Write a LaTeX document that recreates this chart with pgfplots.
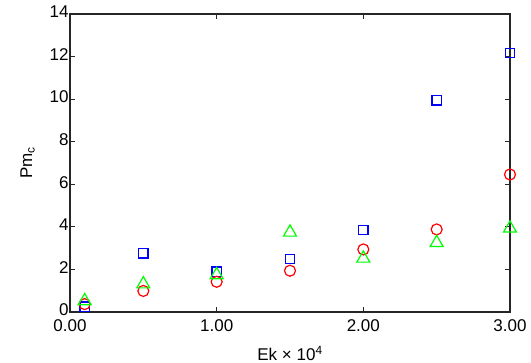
\documentclass[border=0pt]{standalone}
\usepackage{pgfplots}
\pgfplotsset{compat=1.18}
\usepackage{fontspec}
\setmainfont{Liberation Sans}
\definecolor{mblue}{rgb}{0,0,1}
\definecolor{mred}{rgb}{1,0,0}
\definecolor{mgreen}{rgb}{0,1,0}
\begin{document}
\begin{tikzpicture}[x=1bp,y=1bp]
\path[use as bounding box] (-70bp,-51bp) rectangle (461bp,312bp);
\begin{axis}[
  at={(0,0)}, anchor=south west,
  scale only axis, width=440bp, height=298bp,
  xmin=0, xmax=3, ymin=0, ymax=14,
  xtick={0,1,2,3}, xticklabels={0.00,1.00,2.00,3.00},
  ytick={0,2,...,14},
  tick align=inside, tick pos=both,
  major tick length=5bp,
  axis line style={line width=1.2bp, black!85},
  tick style={line width=1bp, black!85},
  font=\fontsize{17bp}{19bp}\selectfont,
  /pgf/number format/assume math mode=true,
  xticklabel style={yshift=-4bp},
  yticklabel style={xshift=2bp, yshift=2bp},
  xlabel={Ek × 10\textsuperscript{4}},
  ylabel={Pm\textsubscript{c}},
  xlabel style={yshift=-8bp},
  ylabel style={yshift=8bp},
  clip=false,
]
\addplot[only marks, mark=square, mark size=4.7bp, color=mblue, mark options={line width=1.4bp}] coordinates {
(0.1,0.25) (0.5,2.76) (1.0,1.89) (1.5,2.49) (2.0,3.85) (2.5,9.95) (3.0,12.17)};
\addplot[only marks, mark=o, mark size=5.5bp, color=mred, mark options={line width=1.2bp}] coordinates {
(0.1,0.37) (0.5,0.99) (1.0,1.42) (1.5,1.94) (2.0,2.94) (2.5,3.88) (3.0,6.46)};
\addplot[only marks, mark=triangle, mark size=7.5bp, color=mgreen, mark options={line width=1.2bp}] coordinates {
(0.1,0.52) (0.5,1.31) (1.0,1.74) (1.5,3.74) (2.0,2.52) (2.5,3.25) (3.0,3.93)};
\end{axis}
\end{tikzpicture}
\end{document}
